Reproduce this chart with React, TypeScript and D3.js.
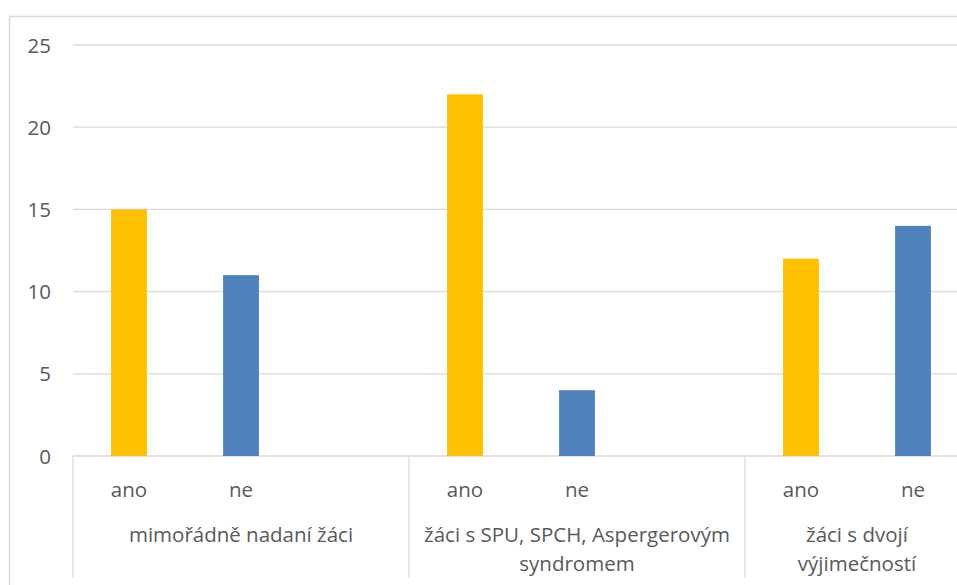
import React from "react";
import * as d3 from "d3";

// category groups (outer level of the axis) and their wrapped label lines
const groupLabels = [
  ["mimořádně nadaní žáci"],
  ["žáci s SPU, SPCH, Aspergerovým", "syndromem"],
  ["žáci s dvojí", "výjimečností"],
];
// inner categories per group ("" = empty slot)
const innerLabels = [
  ["ano", "ne", ""],
  ["ano", "ne", ""],
  ["ano", "ne"],
];
const values = [
  [15, 11, null],
  [22, 4, null],
  [12, 14],
];
const yTicks = [0, 5, 10, 15, 20, 25];
const barColors: Record<string, string> = { ano: "#FFC000", ne: "#4F81BD" };

const W = 957;
const H = 585;
const FONT = "'Open Sans', 'Noto Sans', sans-serif";
const FS = 20.5;

const App = () => {
  // flatten the groups into slots
  const slots: { key: string; group: number; label: string; value: number | null }[] = [];
  innerLabels.forEach((labels, g) => {
    labels.forEach((lab, i) => {
      slots.push({ key: `${g}-${i}`, group: g, label: lab, value: values[g][i] });
    });
  });

  const plotLeft = 73;
  const plotRight = 969; // the picture is cropped on the right
  const x = d3.scaleBand().domain(slots.map((s) => s.key)).range([plotLeft, plotRight]).padding(0);
  const y = d3.scaleLinear().domain([0, 25]).range([456, 45]);
  const barW = x.bandwidth() * 0.32;

  // group boundaries
  const groupEdges: number[] = [plotLeft];
  innerLabels.forEach((labels, g) => {
    const last = slots.filter((s) => s.group === g).pop()!;
    groupEdges.push((x(last.key) as number) + x.bandwidth());
  });

  const grid = "#D9D9D9";
  const textColor = "#595959";

  return (
    <svg
      width={W}
      height={H}
      style={{ position: "absolute", left: 0, top: 0, background: "#fff" }}
      fontFamily={FONT}
    >
      {/* chart border */}
      <rect x={9.5} y={16.5} width={W + 20} height={H + 20} fill="none" stroke={grid} strokeWidth={1.5} />

      {/* gridlines and y labels */}
      {yTicks.map((t) => (
        <g key={t}>
          <line x1={plotLeft} x2={plotRight} y1={y(t)} y2={y(t)} stroke={grid} strokeWidth={1.3} />
          <text x={51} y={y(t) + 7.5} textAnchor="end" fontSize={FS} fill={textColor}>
            {t}
          </text>
        </g>
      ))}

      {/* bars */}
      {slots
        .filter((s) => s.value !== null)
        .map((s) => (
          <rect
            key={s.key}
            x={(x(s.key) as number) + x.bandwidth() / 2 - barW / 2}
            y={y(s.value as number)}
            width={barW}
            height={y(0) - y(s.value as number)}
            fill={barColors[s.label]}
          />
        ))}

      {/* category axis separators */}
      {groupEdges.map((gx, i) => (
        <line key={i} x1={gx} x2={gx} y1={y(0)} y2={578} stroke={grid} strokeWidth={1.3} />
      ))}

      {/* inner labels */}
      {slots.map((s) => (
        <text
          key={s.key}
          x={(x(s.key) as number) + x.bandwidth() / 2}
          y={497}
          textAnchor="middle"
          fontSize={FS}
          fill={textColor}
        >
          {s.label}
        </text>
      ))}

      {/* group labels */}
      {groupLabels.map((lines, g) => {
        const cx = (groupEdges[g] + groupEdges[g + 1]) / 2;
        return (
          <text key={g} x={cx} y={542} textAnchor="middle" fontSize={FS} fill={textColor}>
            {lines.map((ln, i) => (
              <tspan key={i} x={cx} dy={i === 0 ? 0 : 29}>
                {ln}
              </tspan>
            ))}
          </text>
        );
      })}
    </svg>
  );
};

export default App;
